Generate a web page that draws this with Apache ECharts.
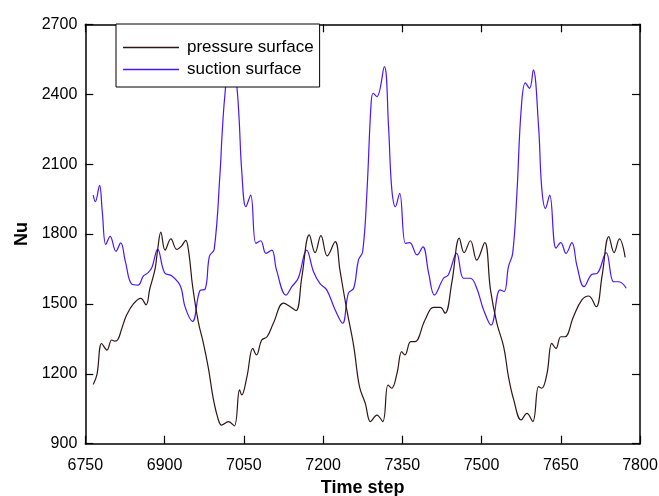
<!DOCTYPE html>
<html>
<head>
<meta charset="utf-8">
<script src="https://cdn.jsdelivr.net/npm/echarts@6/dist/echarts.min.js"></script>
<style>html,body{margin:0;padding:0;background:#fff}#c{width:659px;height:496px}</style>
</head>
<body>
<div id="c"></div>
<script>
var xTicks = [6750, 6900, 7050, 7200, 7350, 7500, 7650, 7800];
var yTicks = [900, 1200, 1500, 1800, 2100, 2400, 2700];

var pressureSteps = [6765,6772,6781,6791,6800,6806,6812,6819,6828,6841,6855,6865,6872,6882,6887,6893,6901,6912,6923,6932,6940,6946,6953,6964,6973,6983,6992,7001,7008,7021,7032,7042,7046,7056,7067,7074,7084,7094,7106,7125,7138,7149,7160,7174,7185,7196,7208,7223,7232,7245,7258,7269,7280,7290,7302,7313,7323,7330,7340,7349,7355,7366,7374,7393,7409,7422,7431,7444,7458,7467,7479,7491,7506,7517,7529,7542,7551,7561,7575,7586,7597,7608,7614,7624,7633,7641,7650,7658,7674,7690,7703,7717,7728,7741,7751,7761,7772];
var pressureNu = [1154,1196,1330,1302,1345,1340,1348,1394,1451,1500,1524,1496,1564,1649,1734,1808,1731,1779,1734,1748,1773,1719,1578,1422,1337,1224,1097,1010,980,995,976,1131,1109,1188,1309,1281,1345,1359,1417,1503,1488,1471,1617,1796,1720,1793,1706,1767,1645,1474,1320,1145,1073,995,1023,995,1152,1138,1202,1295,1281,1338,1338,1431,1485,1485,1460,1595,1782,1720,1771,1688,1763,1560,1417,1316,1188,1088,1002,1030,995,1145,1138,1202,1331,1309,1359,1359,1445,1517,1534,1488,1617,1789,1720,1779,1700];

var suctionSteps = [6765,6769,6777,6782,6789,6797,6808,6817,6826,6838,6850,6860,6869,6876,6887,6900,6914,6926,6932,6939,6953,6967,6977,6985,6994,7005,7009,7014,7019,7024,7030,7036,7041,7046,7054,7063,7073,7082,7092,7103,7112,7130,7141,7153,7169,7182,7194,7207,7223,7237,7248,7258,7267,7275,7283,7291,7295,7302,7316,7324,7330,7337,7345,7356,7364,7378,7389,7400,7411,7428,7437,7453,7466,7479,7491,7504,7518,7535,7543,7551,7559,7567,7575,7583,7591,7598,7608,7614,7621,7629,7641,7650,7660,7671,7681,7694,7709,7719,7736,7750,7760,7774];
var suctionNu = [1967,1939,2009,1900,1755,1790,1726,1762,1680,1585,1581,1620,1634,1656,1734,1634,1620,1592,1564,1486,1425,1557,1564,1705,1734,2060,2230,2390,2470,2450,2510,2450,2300,2075,1917,1967,1760,1771,1717,1731,1645,1538,1574,1610,1731,1638,1588,1560,1474,1417,1546,1567,1688,1724,1975,2361,2404,2389,2518,2261,1997,1917,1975,1760,1763,1710,1745,1631,1538,1610,1624,1717,1610,1610,1567,1474,1409,1560,1553,1660,1717,1975,2332,2449,2425,2504,2261,1997,1910,1967,1739,1763,1717,1763,1660,1574,1627,1631,1720,1595,1595,1567];

function pairs(xs, ys) { return xs.map(function (x, i) { return [x, ys[i]]; }); }
function plain(v) { return String(v); }

var chart = echarts.init(document.getElementById('c'), null, {renderer: 'canvas'});
var fontFam = '"Liberation Sans", Arial, sans-serif';
var axisLine = {show: true, lineStyle: {color: '#000', width: 1.5}};
var tick = {show: true, inside: true, length: 8, lineStyle: {color: '#000', width: 1.2}};
chart.setOption({
  animation: false,
  backgroundColor: '#fff',
  grid: {left: 85.3, right: 19, top: 24.3, bottom: 52.3, containLabel: false, outerBoundsMode: 'none'},
  legend: {
    orient: 'vertical', left: 116, top: 24,
    padding: [15, 6, 9, 7],
    icon: 'rect',
    itemWidth: 56, itemHeight: 1.3, itemGap: 5,
    backgroundColor: '#fff', borderColor: '#000', borderWidth: 1,
    textStyle: {fontFamily: fontFam, fontSize: 17, color: '#000', padding: [0, 0, 0, 3]},
    z: 10,
    data: ['pressure surface', 'suction surface']
  },
  xAxis: [{
    type: 'value', min: xTicks[0], max: xTicks[xTicks.length - 1], interval: 150,
    axisLine: axisLine, axisTick: tick,
    axisLabel: {fontFamily: fontFam, fontSize: 16, color: '#000', margin: 14, formatter: plain},
    splitLine: {show: false},
    name: 'Time step', nameLocation: 'middle', nameGap: 29,
    nameTextStyle: {fontFamily: fontFam, fontSize: 18, fontWeight: 'bold', color: '#000'}
  }, {
    type: 'value', position: 'top', min: xTicks[0], max: xTicks[xTicks.length - 1], interval: 150,
    axisLine: axisLine, axisTick: tick,
    axisLabel: {show: false}, splitLine: {show: false}
  }],
  yAxis: [{
    type: 'value', min: yTicks[0], max: yTicks[yTicks.length - 1], interval: 300,
    axisLine: axisLine, axisTick: tick,
    axisLabel: {fontFamily: fontFam, fontSize: 16, color: '#000', margin: 8, formatter: plain},
    splitLine: {show: false},
    name: 'Nu', nameLocation: 'middle', nameGap: 48,
    nameTextStyle: {fontFamily: fontFam, fontSize: 18, fontWeight: 'bold', color: '#000'}
  }, {
    type: 'value', position: 'right', min: yTicks[0], max: yTicks[yTicks.length - 1], interval: 300,
    axisLine: axisLine, axisTick: tick,
    axisLabel: {show: false}, splitLine: {show: false}
  }],
  series: [{
    name: 'pressure surface', type: 'line', xAxisIndex: 0, yAxisIndex: 0,
    data: pairs(pressureSteps, pressureNu), smooth: 0.4, symbol: 'none',
    lineStyle: {color: '#301515', width: 1.2}, itemStyle: {color: '#301515'}, z: 3
  }, {
    name: 'suction surface', type: 'line', xAxisIndex: 0, yAxisIndex: 0,
    data: pairs(suctionSteps, suctionNu), smooth: 0.4, symbol: 'none',
    lineStyle: {color: '#4a14ff', width: 1.2}, itemStyle: {color: '#4a14ff'}, z: 2
  }]
});
</script>
</body>
</html>
